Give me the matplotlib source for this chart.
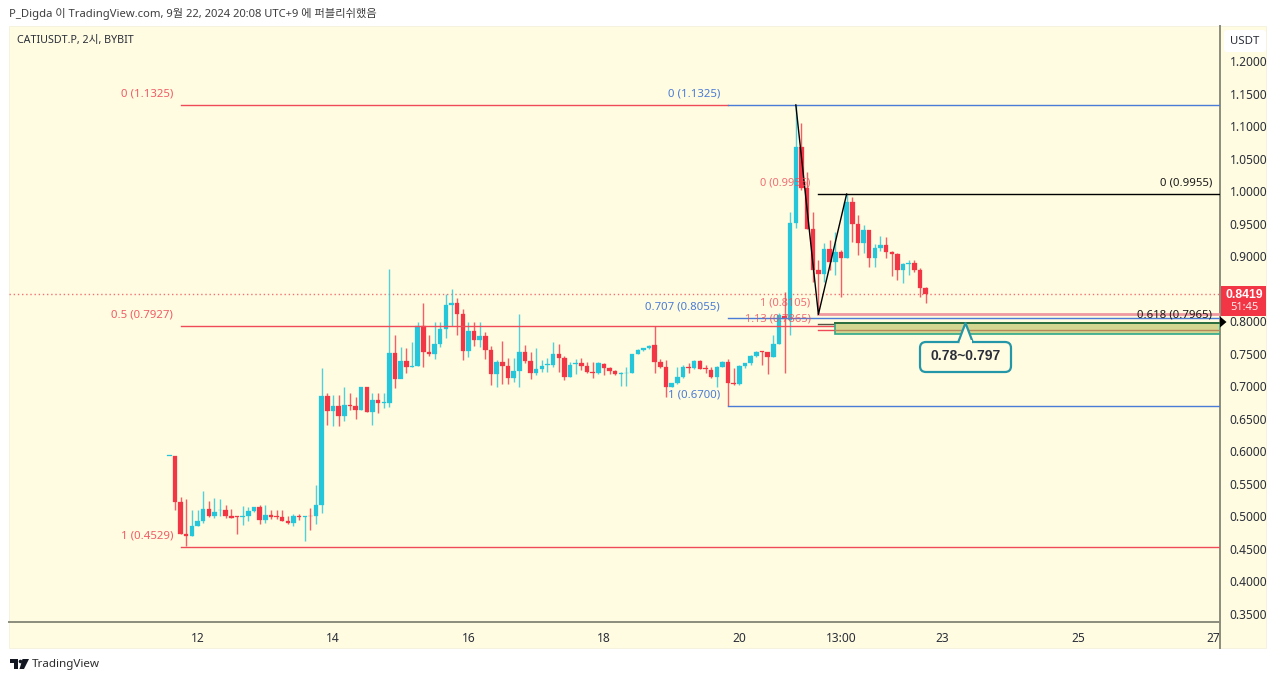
import matplotlib
matplotlib.use("Agg")
import matplotlib.pyplot as plt
from matplotlib.patches import FancyBboxPatch, Polygon, Rectangle

plt.rcParams['font.family'] = ['Noto Sans', 'Noto Sans CJK KR']

opens = [.5930,.5930,.5214,.4732,.4702,.4845,.4932,.5121,.4999,.5091,.5091,.4999,.4999,.4988,.4999,.5086,.5152,.4947,.5019,.5009,
         .4993,.4932,.4906,.5004,.4988,.5004,.4999,.5168,.6852,.6627,.6698,.6550,.6714,.6698,.6642,.6995,.6611,.6791,.6750,.6750,
         .7518,.7113,.7390,.7297,.7313,.7927,.7528,.7497,.7646,.7876,.8250,.8275,.8112,.7543,.7856,.7707,.7769,.7559,.7185,.7369,
         .7313,.7124,.7241,.7533,.7395,.7200,.7262,.7334,.7328,.7497,.7431,.7149,.7344,.7354,.7313,.7226,.7211,.7344,.7277,.7231,
         .7185,.7200,.7211,.7497,.7564,.7584,.7630,.7380,.7303,.6985,.7047,.7139,.7293,.7277,.7385,.7272,.7252,.7149,.7303,.7380,
         .7047,.7031,.7313,.7354,.7467,.7533,.7523,.7456,.7646,.8087,.8021,.9516,1.0673,1.0044,.9414,.8789,.8723,.9107,.8917,.9061,
         .8968,.9839,.9496,.9199,.9404,.8968,.9122,.9173,.9061,.9035,.8789,.8881,.8892,.8784,.8508]
closes = [.5935,.5214,.4732,.4702,.4845,.4932,.5121,.4999,.5075,.5101,.4999,.4983,.4988,.4999,.5086,.5147,.4947,.5019,.4993,.4993,
          .4932,.4906,.4999,.4988,.5004,.4999,.5168,.6852,.6627,.6698,.6550,.6714,.6698,.6642,.6995,.6611,.6791,.6745,.6755,.7518,
          .7113,.7390,.7297,.7313,.7927,.7528,.7497,.7646,.7876,.8250,.8275,.8112,.7543,.7856,.7707,.7769,.7559,.7185,.7369,.7313,
          .7124,.7241,.7533,.7395,.7200,.7262,.7313,.7344,.7497,.7431,.7149,.7328,.7354,.7313,.7226,.7211,.7354,.7277,.7231,.7185,
          .7195,.7211,.7497,.7564,.7584,.7625,.7380,.7303,.6985,.7047,.7139,.7293,.7277,.7385,.7272,.7262,.7149,.7303,.7374,.7047,
          .7031,.7313,.7354,.7467,.7533,.7523,.7456,.7646,.8096,.8040,.9516,1.0673,1.0044,.9414,.8789,.8723,.9107,.8917,.9061,.8968,
          .9839,.9496,.9199,.9404,.8968,.9122,.9173,.9061,.9035,.8789,.8876,.8892,.8784,.8508,.8419]
highs = [.5935,.5930,.5296,.5270,.5101,.5101,.5383,.5244,.5285,.5275,.5178,.5111,.4999,.5162,.5152,.5147,.5178,.5178,.5101,.5091,
         .5091,.4999,.5040,.5040,.5009,.5127,.5480,.7277,.6903,.6867,.6867,.6995,.6893,.6842,.6995,.6995,.6903,.6903,.6893,.8798,
         .7789,.7600,.7584,.7687,.7994,.8275,.7789,.7994,.7994,.8414,.8490,.8352,.8183,.7994,.7994,.7994,.7840,.7620,.7405,.7702,
         .7431,.7431,.8107,.7636,.7533,.7584,.7405,.7431,.7687,.7651,.7467,.7380,.7421,.7431,.7380,.7380,.7380,.7354,.7293,.7252,
         .7226,.7303,.7497,.7569,.7584,.7641,.7922,.7415,.7405,.7057,.7293,.7328,.7354,.7405,.7405,.7328,.7293,.7313,.7390,.7415,
         .7277,.7328,.7364,.7482,.7543,.7543,.7533,.7789,.8122,.8454,.9685,1.1325,1.1042,1.0300,.9685,.8943,.9209,.9250,.9378,.9096,
         .9955,.9905,.9634,.9480,.9404,.9189,.9311,.9301,.9086,.9045,.8892,.8943,.8943,.8815,.8533]
lows = [.5930,.5091,.4732,.4548,.4702,.4845,.4896,.4988,.4973,.5009,.4973,.4973,.4732,.4871,.4922,.5075,.4886,.4896,.4958,.4958,
        .4922,.4886,.4855,.4947,.4620,.4794,.4886,.5060,.6407,.6396,.6396,.6473,.6637,.6494,.6637,.6606,.6401,.6586,.6663,.6688,
        .6970,.7123,.7200,.7292,.7313,.7303,.7466,.7425,.7610,.7748,.7927,.7789,.7405,.7446,.7620,.7600,.7415,.7021,.6985,.7037,
        .7037,.7072,.6996,.7354,.7108,.7175,.7226,.7226,.7293,.7226,.7098,.7139,.7190,.7252,.7211,.7124,.7190,.7175,.7190,.7175,
        .7006,.7006,.7200,.7497,.7549,.7569,.7200,.7277,.6832,.6985,.7037,.7124,.7211,.7262,.7262,.7211,.7124,.6985,.7293,.6699,
        .7021,.7021,.7277,.7328,.7456,.7328,.7190,.7446,.7646,.7199,.7791,.9429,1.0018,.9414,.8610,.8105,.8610,.8789,.8712,.8380,
        .8968,.9224,.9020,.9045,.8830,.8840,.9086,.8968,.8697,.8636,.8584,.8712,.8764,.8380,.8277]

price_ticks = [1.2, 1.15, 1.1, 1.05, 1.0, 0.95, 0.9, 0.8, 0.75, 0.7, 0.65, 0.6, 0.55, 0.5, 0.45, 0.4, 0.35]
time_ticks = [5, 29, 53, 77, 101, 119, 137, 161, 185]
time_labels = ['12', '14', '16', '18', '20', '13:00', '23', '25', '27']

last_price = 0.8419
fib_red = [(1.1325, '0 (1.1325)'), (0.7927, '0.5 (0.7927)'), (0.4529, '1 (0.4529)')]
fib_blue = [(1.1325, '0 (1.1325)'), (0.8055, '0.707 (0.8055)'), (0.67, '1 (0.6700)')]
fib_black = [(0.9955, '0 (0.9955)'), (0.7965, '0.618 (0.7965)')]
fib_pink = [(0.9955, '0 (0.9955)'), (0.8105, '1 (0.8105)'), (0.7865, '1.13 (0.7865)')]
zone = (0.78, 0.797)
swing_x = [111, 115, 120]
swing_y = [1.1325, 0.8105, 0.9955]

UP = '#26C6DA'
DOWN = '#F23645'
BG = '#FFFCE1'
AXC = '#8C8C7C'
RED = '#EE4A58'
BLUE = '#4A7BD6'
INK = '#2A2E39'

W, H = 1280, 681
fig = plt.figure(figsize=(W / 100, H / 100), dpi=100, facecolor='white')


def box(l, t, r, b):
    return [l / W, 1 - b / H, (r - l) / W, (b - t) / H]


# pixel layer for chrome around the chart
bg = fig.add_axes([0, 0, 1, 1], zorder=0)
bg.set_xlim(0, W)
bg.set_ylim(H, 0)
bg.axis('off')
bg.add_patch(Rectangle((9, 26), 1257, 622, fc=BG, ec='#F4F1DC', lw=0.6))

ax = fig.add_axes(box(9, 26, 1220, 622), zorder=1)
ax.patch.set_alpha(0)
ax.set_xlim(-28.4, 186.15)
ax.set_ylim(0.3377, 1.2538)
for s in ['top', 'left']:
    ax.spines[s].set_visible(False)
for s in ['right', 'bottom']:
    ax.spines[s].set_color(AXC)
    ax.spines[s].set_linewidth(1.4)
ax.yaxis.tick_right()
ax.set_yticks(price_ticks)
ax.set_yticklabels(['%.4f' % p for p in price_ticks], fontsize=8.6, color=INK)
ax.set_xticks(time_ticks)
ax.set_xticklabels(time_labels, fontsize=8.6, color=INK)
ax.tick_params(length=0, pad=7)

xr = 186.15
# candles
for i in range(len(opens)):
    col = UP if closes[i] >= opens[i] else DOWN
    ax.vlines(i, lows[i], highs[i], color=col, lw=1.0, alpha=0.8, zorder=3)
    lo = min(opens[i], closes[i])
    ht = max(abs(closes[i] - opens[i]), 0.0012)
    ax.add_patch(Rectangle((i - 0.4, lo), 0.8, ht, fc=col, ec=col, lw=0.2, zorder=4))

ax.axhline(last_price, color=DOWN, lw=1.0, ls=(0, (1, 2)), alpha=0.7, zorder=2)

# fib levels, the top red one stops where the blue one takes over
for p, label in fib_red:
    ax.plot([2, 99 if p == fib_blue[0][0] else xr], [p, p], color=RED, lw=1.0, zorder=5)
    ax.text(0.7, p + 0.0165, label, color=RED, ha='right', va='center', fontsize=8.2, alpha=0.9)
for p, label in fib_blue:
    ax.plot([99, xr], [p, p], color=BLUE, lw=1.0, zorder=5)
    ax.text(97.6, p + 0.0165, label, color=BLUE, ha='right', va='center', fontsize=8.2, zorder=7)
ax.plot([115, xr], [fib_pink[1][0]] * 2, color='#EE9AA0', lw=2.0, zorder=5)
for p, label in fib_pink:
    ax.text(113.6, p + 0.0175, label, color=RED, ha='right', va='center', fontsize=8.0, alpha=0.8, zorder=7)
ax.plot([115, xr], [fib_black[0][0]] * 2, color='black', lw=1.0, zorder=5)
ax.text(184.8, fib_black[0][0] + 0.0165, fib_black[0][1], color='#1A1A1A', ha='right', va='center', fontsize=8.2)
ax.text(184.8, fib_black[1][0] + 0.0135, fib_black[1][1], color='#1A1A1A', ha='right', va='center', fontsize=8.2, zorder=7)
ax.plot([115, 118], [fib_black[1][0]] * 2, color='#555545', lw=1.0, zorder=5)
ax.plot([115, 118], [fib_pink[2][0]] * 2, color=RED, lw=1.0, zorder=5)
ax.plot(swing_x, swing_y, color='black', lw=1.0, zorder=6)

# buy zone
ax.add_patch(Rectangle((118, zone[0]), xr - 118, zone[1] - zone[0], fc='#D3D690', ec='#2FA88A', lw=1.2, zorder=5))
ax.plot([118, xr], [zone[1], zone[1]], color='#2C6E3C', lw=1.4, zorder=6)
ax.plot([118, xr], [fib_pink[2][0]] * 2, color='#B5895A', lw=1.0, zorder=6)

# callout, pointer is on the zone top
ov = fig.add_axes([0, 0, 1, 1], zorder=3)
ov.set_xlim(0, W)
ov.set_ylim(H, 0)
ov.axis('off')
TEAL = '#2396A8'
ov.plot([1220, 1220], [622, 648], color=AXC, lw=1.4)
ov.add_patch(FancyBboxPatch((920, 342), 91, 30, boxstyle='round,pad=0,rounding_size=6', fc=BG, ec=TEAL, lw=1.6))
ov.add_patch(Polygon([(958, 342.8), (965.5, 323), (973, 342.8)], closed=False, fc=BG, ec=TEAL, lw=1.6, joinstyle='round'))
ov.add_patch(Rectangle((959.5, 340), 12, 3.5, fc=BG, ec='none'))
ov.text(965.5, 356, '0.78~0.797', fontsize=10, fontweight='bold', family='Liberation Sans', color=INK, ha='center', va='center')

# price tag and marker
ov.add_patch(Rectangle((1221, 286), 45, 30, fc=DOWN, ec=DOWN, lw=0))
ov.text(1244, 295, '0.8419', color='white', fontsize=8.8, fontweight='bold', family='Liberation Sans', ha='center', va='center')
ov.text(1244, 308, '51:45', color='white', fontsize=8, ha='center', va='center', alpha=0.9)
ov.add_patch(Polygon([(1220, 316.5), (1226.5, 322), (1220, 327.5)], fc='black', ec='none'))
ov.add_patch(FancyBboxPatch((1224, 30), 42, 22, boxstyle='round,pad=0,rounding_size=3', fc='white', ec='none'))
ov.text(1245, 41, 'USDT', color=INK, fontsize=8.2, ha='center', va='center')

# header, symbol, footer
ov.text(9, 14, 'P_Digda 이 TradingView.com, 9월 22, 2024 20:08 UTC+9 에 퍼블리쉬했음', color='#3E3E3E', fontsize=8.1, va='center')
ov.text(17, 40, 'CATIUSDT.P, 2시, BYBIT', color=INK, fontsize=7.7, va='center')
ov.add_patch(Polygon([(10, 659), (18, 659), (18, 669), (14, 669), (14, 663), (10, 663)], fc='#131722', ec='none'))
ov.add_patch(Polygon([(22.5, 659), (29, 659), (24, 669), (19.5, 669)], fc='#131722', ec='none'))
ov.plot([20], [661], marker='o', ms=2.6, color='#131722', mew=0)
ov.text(32, 664, 'TradingView', color='#2E2E2E', fontsize=8.4, va='center')

fig.savefig('out.png', dpi=100)
